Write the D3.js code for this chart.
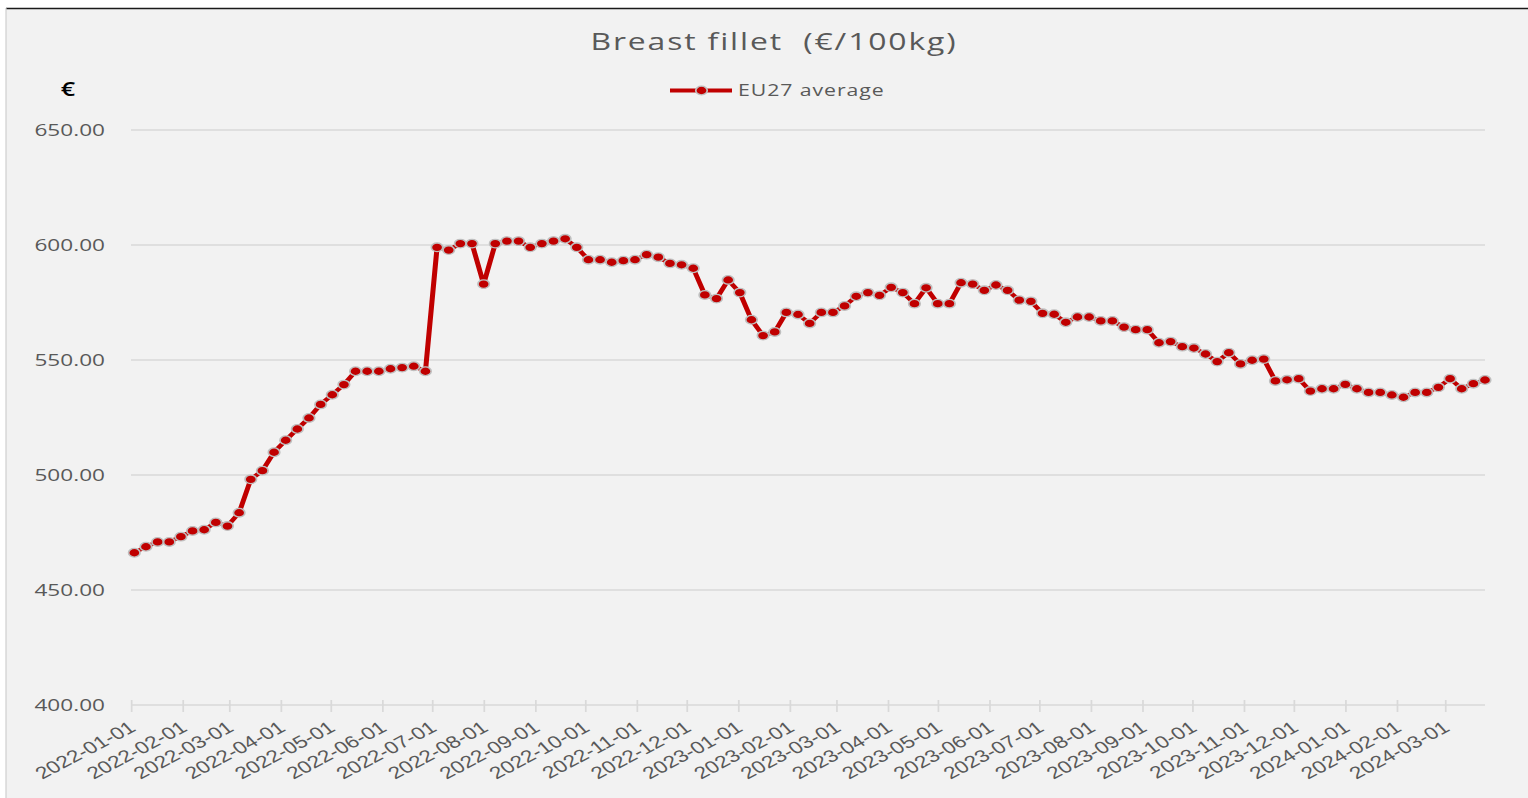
<!DOCTYPE html>
<html lang="en">
<head>
<meta charset="UTF-8">
<title>Breast fillet (€/100kg)</title>
<style>
  body{margin:0;background:#fff;font-family:'Open Sans',sans-serif}
  svg{display:block}
  .grid line{stroke:#d9d9d9;stroke-width:1.3}
  .tick-y text{fill:#595959;font-size:17px}
  .xaxis text{fill:#595959;font-size:17px}
  .xaxis line,.xaxis path{stroke:#d9d9d9;stroke-width:1.3}
</style>
</head>
<body>
<div id="chart"></div>
<script src="https://d3js.org/d3.v7.min.js"></script>
<script>
/* data: weekly EU27 average, first Monday 2022-01-03 -> 2024-03-25 */
const firstWeek = "2022-01-03", lastWeek = "2024-03-25";
const values = [
  466.2,468.8,470.9,470.9,473.2,475.7,476.2,479.4,477.8,483.6,
  498.1,501.9,509.9,515.1,520.0,524.8,530.7,534.9,539.3,545.1,
  545.1,545.1,546.2,546.7,547.3,545.1,599.0,597.8,600.6,600.6,
  583.0,600.6,601.7,601.7,599.0,600.6,601.7,602.7,599.0,593.6,
  593.6,592.5,593.2,593.6,595.8,594.7,592.0,591.4,589.9,578.3,
  576.7,584.8,579.3,567.5,560.6,562.2,570.7,569.8,565.9,570.7,
  570.7,573.5,577.7,579.3,578.1,581.6,579.3,574.5,581.4,574.5,
  574.5,583.6,583.0,580.3,582.6,580.3,576.0,575.5,570.3,569.9,
  566.4,568.7,568.7,567.0,567.0,564.3,563.2,563.2,557.5,558.0,
  555.8,555.2,552.6,549.3,553.2,548.3,549.9,550.4,540.9,541.4,
  541.9,536.5,537.5,537.5,539.4,537.5,535.9,535.9,534.8,533.8,
  535.9,535.9,538.1,541.9,537.5,539.7,541.3
];
const yTicks = [400,450,500,550,600,650];
const axisStart = "2022-01-01";
const seriesName = "EU27 average";
const titleText = "Breast fillet  (€/100kg)";

/* the picture is stretched sideways, so draw in a narrower space and widen it */
const SX = 1.33;
const W = 1528, H = 798;
const L = 131/SX, R = 1485/SX, T = 130, B = 705;

const parse = d3.utcParse("%Y-%m-%d");
const weeks = d3.utcMonday.range(parse(firstWeek), d3.utcDay.offset(parse(lastWeek),1));
const data = weeks.map((d,i)=>({date:d, v:values[i]}));

const svg = d3.select("#chart").append("svg").attr("width",W).attr("height",H);

/* frame */
svg.append("rect").attr("x",6).attr("y",8).attr("width",W).attr("height",H).attr("fill","#f2f2f2");
svg.append("line").attr("x1",6).attr("x2",W).attr("y1",8.5).attr("y2",8.5)
   .attr("stroke","#1a1a1a").attr("stroke-width",1.6);
svg.append("line").attr("x1",6).attr("x2",6).attr("y1",8).attr("y2",H)
   .attr("stroke","#cfcfcf").attr("stroke-width",1.2);

const g = svg.append("g").attr("transform",`scale(${SX},1)`);

const x = d3.scaleUtc().domain([parse(axisStart), parse(lastWeek)]).range([L,R]);
const y = d3.scaleLinear().domain([400,650]).range([B,T]);

/* title + legend */
g.append("text").attr("x",774/SX).attr("y",50).attr("text-anchor","middle")
 .attr("fill","#595959").style("font-size","24px").style("letter-spacing","1.4px")
 .style("white-space","pre")
 .text(titleText);

g.append("text").attr("x",68/SX).attr("y",96).attr("text-anchor","middle")
 .attr("fill","#000").style("font-size","19px").style("font-weight",600).text("€");

const leg = g.append("g");
leg.append("line").attr("x1",670/SX).attr("x2",732/SX).attr("y1",90.5).attr("y2",90.5)
   .attr("stroke","#c00000").attr("stroke-width",3.8);
leg.append("circle").attr("cx",701.5/SX).attr("cy",90.5).attr("r",4.3)
   .attr("fill","#c00000").attr("stroke","#bfbfbf").attr("stroke-width",1.3);
leg.append("text").attr("x",738/SX).attr("y",96).attr("fill","#595959")
   .style("font-size","16px").style("letter-spacing","0.7px").text(seriesName);

/* gridlines + y labels */
const gy = g.append("g").attr("class","grid");
gy.selectAll("line").data(yTicks.filter(t=>t>400)).join("line")
  .attr("x1",L).attr("x2",R).attr("y1",d=>y(d)).attr("y2",d=>y(d));
g.append("g").attr("class","tick-y").selectAll("text").data(yTicks).join("text")
  .attr("x",105/SX).attr("y",d=>y(d)).attr("dy","0.35em").attr("text-anchor","end")
  .text(d3.format(".2f"));

/* x axis */
const xa = g.append("g").attr("class","xaxis").attr("transform",`translate(0,${B})`)
  .call(d3.axisBottom(x).ticks(d3.utcMonth.every(1)).tickFormat(d3.utcFormat("%Y-%m-%d"))
        .tickSize(7).tickSizeOuter(0));
xa.select(".domain").attr("d",`M${L},0H${R}`);
xa.selectAll(".tick line").attr("y1",-5);
xa.selectAll(".tick text").attr("y",0).attr("dy",0)
  .attr("text-anchor","end")
  .attr("transform","translate(4,25) rotate(-35)");

/* series */
g.append("path").datum(data)
 .attr("fill","none").attr("stroke","#c00000").attr("stroke-width",3.8)
 .attr("stroke-linejoin","round")
 .attr("d",d3.line().x(d=>x(d.date)).y(d=>y(d.v)));

g.append("g").selectAll("circle").data(data).join("circle")
 .attr("cx",d=>x(d.date)).attr("cy",d=>y(d.v)).attr("r",4.3)
 .attr("fill","#c00000").attr("stroke","#bfbfbf").attr("stroke-width",1.3);
</script>
</body>
</html>
